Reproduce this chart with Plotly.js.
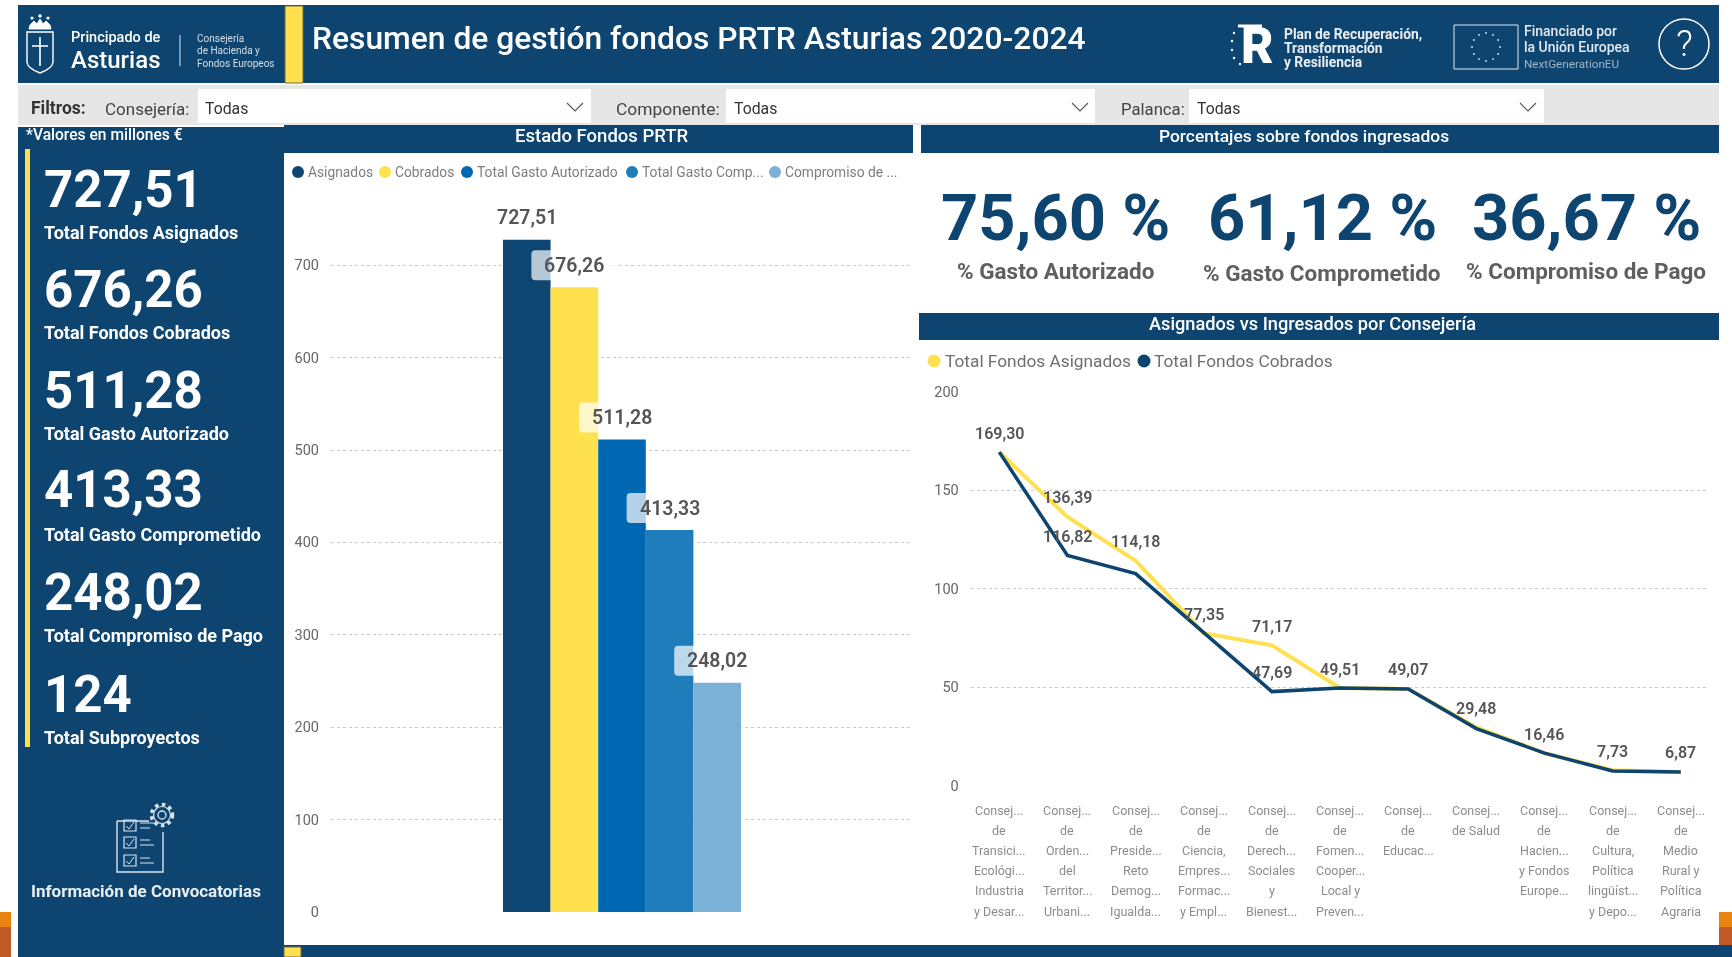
<!DOCTYPE html>
<html lang="es">
<head>
<meta charset="utf-8">
<title>Resumen de gestión fondos PRTR Asturias 2020-2024</title>
<script src="https://cdn.plot.ly/plotly-3.0.1.min.js"></script>
<style>
html,body{margin:0;padding:0;background:#fff;overflow:hidden}
#chart{width:1732px;height:957px;filter:blur(0.5px)}
</style>
</head>
<body>
<div id="chart"></div>
<script>
// ---- data ----
const barNames = ['Asignados','Cobrados','Total Gasto Autorizado','Total Gasto Comp...','Compromiso de ...'];
const barValues = [727.51,676.26,511.28,413.33,248.02];
const barColors = ['#0D4672','#FFE04F','#0068B3','#1F7DBB','#7BB1D6'];
const barTicks = [0,100,200,300,400,500,600,700];

const kpiValues = ['727,51','676,26','511,28','413,33','248,02','124'];
const kpiLabels = ['Total Fondos Asignados','Total Fondos Cobrados','Total Gasto Autorizado','Total Gasto Comprometido','Total Compromiso de Pago','Total Subproyectos'];

const pctValues = ['75,60 %','61,12 %','36,67 %'];
const pctLabels = ['% Gasto Autorizado','% Gasto Comprometido','% Compromiso de Pago'];

const consejeriaLines = [
 ['Consej...','de','Transici...','Ecológi...','Industria','y Desar...'],
 ['Consej...','de','Orden...','del','Territor...','Urbani...'],
 ['Consej...','de','Preside...','Reto','Demog...','Igualda...'],
 ['Consej...','de','Ciencia,','Empres...','Formac...','y Empl...'],
 ['Consej...','de','Derech...','Sociales','y','Bienest...'],
 ['Consej...','de','Fomen...','Cooper...','Local y','Preven...'],
 ['Consej...','de','Educac...'],
 ['Consej...','de Salud'],
 ['Consej...','de','Hacien...','y Fondos','Europe...'],
 ['Consej...','de','Cultura,','Política','lingüíst...','y Depo...'],
 ['Consej...','de','Medio','Rural y','Política','Agraria']
];
const fondosAsignados = [169.30,136.39,114.18,77.35,71.17,49.51,49.07,29.48,16.46,7.73,6.87];
const fondosCobrados  = [169.30,116.82,107.60,77.35,47.69,49.51,49.07,28.90,16.46,7.40,6.87];
const labelsCobrados  = [null,116.82,null,null,47.69,null,null,null,null,null,null];
const lineTicks = [0,50,100,150,200];

// ---- style ----
const NAVY='#0E4570', YEL='#FFE04F', FONT='Roboto, sans-serif', W=1732, H=957;
const GRAY='#5f5f5f', LIGHT='#8c8c8c';
const px=x=>x/W, py=y=>1-y/H;
const es=v=>v.toFixed(2).replace('.',',');
const shapes=[], notes=[];

function rect(x0,y0,x1,y1,fill,extra){shapes.push(Object.assign({type:'rect',xref:'paper',yref:'paper',x0:px(x0),x1:px(x1),y0:py(y0),y1:py(y1),fillcolor:fill,line:{width:0},layer:'below'},extra||{}));}
function circ(cx,cy,r,fill,line,ry){const rr=ry||r;shapes.push({type:'circle',xref:'paper',yref:'paper',x0:px(cx-r),x1:px(cx+r),y0:py(cy-rr),y1:py(cy+rr),fillcolor:fill||'rgba(0,0,0,0)',line:line||{width:0},layer:'below'});}
function path(d,color,width,fill){
  const conv=d.replace(/(-?[\d.]+),(-?[\d.]+)/g,(m,a,b)=>px(+a).toFixed(6)+','+py(+b).toFixed(6));
  shapes.push({type:'path',xref:'paper',yref:'paper',path:conv,line:{color:color,width:width||1},fillcolor:fill||'rgba(0,0,0,0)',layer:'below'});
}
function T(text,x,y,size,color,opt){opt=opt||{};
  notes.push({text:text,xref:'paper',yref:'paper',x:px(x),y:py(y),xanchor:opt.a||'left',yanchor:'middle',showarrow:false,borderpad:0,
    font:{family:opt.f||FONT,size:size,color:color,weight:opt.w||400}});
}

// ---- frame ----
rect(18,5,1719,83,NAVY);
rect(285,6,303,83,YEL,{line:{color:'#6b6b3a',width:1}});
rect(18,85,1719,125,'#E6E6E6');
rect(198,89,591,123,'#fff'); rect(726,89,1095,123,'#fff'); rect(1189,89,1544,123,'#fff');
rect(18,127,284,957,NAVY);
rect(25,149,30,747,YEL);
rect(284,125,913,153,NAVY); rect(921,125,1719,153,NAVY); rect(919,313,1719,340,NAVY);
rect(284,945,1732,957,NAVY);
rect(284,947,301,957,YEL,{line:{color:'#6b6b3a',width:1}});
rect(0,912,11,927,'#E8830F'); rect(0,927,11,957,'#C05A28');
rect(1719,912,1732,927,'#E8830F'); rect(1719,927,1732,945,'#C05A28');

// ---- header logos ----
path('M27,32L53,32L53,62Q53,68 40,73Q27,68 27,62Z','#fff',1.4);
path('M40,37L40,66M32,46L48,46','#fff',1.6);
path('M29,29L51,29L50,25L46,21L43,24L40,19L37,24L34,21L30,25Z','#fff',1,'#fff');
circ(32,18,1.6,'#fff'); circ(40,16,1.8,'#fff'); circ(48,18,1.6,'#fff');
T('Principado de',70,37.5,14.5,'#fff',{w:500});
T('Asturias',70,60,24,'#fff',{w:500});
path('M180,35L180,66','#dfe7ee',1);
T('Consejería',196,38,10,'#d5dfe8'); T('de Hacienda y',196,51,10,'#d5dfe8'); T('Fondos Europeos',196,64,10,'#d5dfe8');
T('Resumen de gestión fondos PRTR Asturias 2020-2024',311,38,31.8,'#fff',{w:500});
T('R',1240,46,50,'#fff',{w:900});
path('M1238,26L1262,26','#fff',3);
[[1234,33],[1232,41],[1232,50],[1234,58],[1240,64]].forEach(p=>circ(p[0],p[1],1.2,'#fff'));
T('Plan de Recuperación,',1283,34,13.8,'#e9eef3',{w:700});
T('Transformación',1283,48,13.8,'#e9eef3',{w:700});
T('y Resiliencia',1283,62,13.8,'#e9eef3',{w:700});
rect(1454,25,1518,69,'rgba(0,0,0,0)',{line:{color:'#dfe7ee',width:1}});
for(let k=0;k<12;k++){const a=k*Math.PI/6;circ(1486+14*Math.cos(a),47+14*Math.sin(a),0.9,'#e9eef3');}
T('Financiado por',1523,31,14,'#e3e9ef',{w:500});
T('la Unión Europea',1523,47,14,'#e3e9ef',{w:500});
T('NextGenerationEU',1523,64,11.7,'#9fb3c4');
circ(1684,44,25,null,{color:'#fff',width:1.5});
T('?',1684,44,37,'#fff',{a:'center',w:300});

// ---- filters ----
T('Filtros:',30,108,17.5,'#333',{w:700});
T('Consejería:',104,109,17,'#444');
T('Todas',204,108,15.8,'#333');
T('Componente:',615,109,17.4,'#444');
T('Todas',733,108,15.8,'#333');
T('Palanca:',1120,109,16.7,'#444');
T('Todas',1196,108,15.8,'#333');
[575,1080,1528].forEach(x=>path(`M${x-8},103L${x},111L${x+8},103`,'#555',1.1));

// ---- left KPI panel ----
T('*Valores en millones €',25,135,15.6,'#fff',{w:500});
const kpiY=[189,289,390,490,592,694], kpiLY=[232,332.5,433,534.5,635,737];
kpiValues.forEach((v,i)=>T(v,43,kpiY[i],51,'#fff',{w:700}));
kpiLabels.forEach((v,i)=>T(v,43,kpiLY[i],18,'#fff',{w:700}));
path('M117,821L117,872L163,872L163,832','#dbe5ee',1.4);
path('M117,821L149,821','#dbe5ee',1.4);
[820,837,855].forEach((y,k)=>{
  rect(124,y,136,y+11,'rgba(0,0,0,0)',{line:{color:'#dbe5ee',width:1.2}});
  path(`M126,${y+6}L129,${y+9}L134,${y+2}`,'#dbe5ee',1);
  path(`M140,${y+3}L${k?150:154},${y+3}M140,${y+8}L${k?154:150},${y+8}`,'#dbe5ee',1.2);
});
circ(162,815,10.5,NAVY,{color:'#dbe5ee',width:3.5,dash:'dot'});
circ(162,815,8.5,NAVY,{color:'#dbe5ee',width:1.2});
circ(162,815,4,NAVY,{color:'#dbe5ee',width:1.3});
T('Información de Convocatorias',146,891,17,'#e8eef3',{a:'center',w:700});

// ---- panel titles ----
T('Estado Fondos PRTR',602,136,18.5,'#fff',{a:'center',w:500});
T('Porcentajes sobre fondos ingresados',1304,136,17.4,'#fff',{a:'center',w:500});
T('Asignados vs Ingresados por Consejería',1312,323,18.2,'#fff',{a:'center',w:500});

// ---- percent KPIs ----
const pctX=[1055,1322,1586], pctLY=[271,273,271];
pctValues.forEach((v,i)=>T(v,pctX[i],218,65,NAVY,{a:'center',w:700}));
pctLabels.forEach((v,i)=>T(v,pctX[i],pctLY[i],22.5,GRAY,{a:'center',w:700}));

// ---- legends ----
const legX=[298,385,467,632,775];
barNames.forEach((n,i)=>{circ(legX[i],172,6,barColors[i]);T(n,legX[i]+9,172,13.8,'#7d7d7d');});
circ(934,361,6.5,YEL); T('Total Fondos Asignados',944,361,17.3,'#6f6f6f');
circ(1144,361,6.5,NAVY); T('Total Fondos Cobrados',1153,361,17.3,'#6f6f6f');

// ---- bar labels with translucent plates ----
const BARGAP=0.591, barStep=(1-BARGAP)/barValues.length;
barValues.forEach((v,i)=>{
  const xc=(i-(barValues.length-1)/2)*barStep;
  if(i>0) shapes.push({type:'path',xref:'x',yref:'y',xsizemode:'pixel',ysizemode:'pixel',xanchor:xc,yanchor:v,
    path:'M-43,11L-43,33Q-43,37 -39,37L39,37Q43,37 43,33L43,11Q43,7 39,7L-39,7Q-43,7 -43,11Z',
    fillcolor:'rgba(255,255,255,0.7)',line:{width:0},layer:'above'});
  notes.push({text:es(v),xref:'x',yref:'y',x:xc,y:v,yshift:22,xanchor:'center',yanchor:'middle',showarrow:false,borderpad:0,
    font:{family:FONT,size:19.5,color:'#555',weight:600}});
});

// ---- line chart labels and category text ----
const consejerias=consejeriaLines.map(l=>l.join(' '));
function lineLabel(i,v){notes.push({text:es(v),xref:'x2',yref:'y2',x:consejerias[i],y:v,yshift:19,xanchor:'center',yanchor:'middle',showarrow:false,borderpad:0,
    font:{family:FONT,size:16,color:'#555',weight:600}});}
fondosAsignados.forEach((v,i)=>lineLabel(i,v));
labelsCobrados.forEach((v,i)=>{if(v!==null)lineLabel(i,v);});
consejeriaLines.forEach((lines,i)=>lines.forEach((t,k)=>{
  notes.push({text:t,xref:'x2',yref:'paper',x:consejerias[i],y:py(810+k*20.2),xanchor:'center',yanchor:'middle',showarrow:false,borderpad:0,
    font:{family:FONT,size:12.5,color:LIGHT}});
}));

// ---- traces ----
const traces=barNames.map((n,i)=>({type:'bar',name:n,x:['Estado Fondos PRTR'],y:[barValues[i]],marker:{color:barColors[i],line:{width:0}},xaxis:'x',yaxis:'y',showlegend:false,hoverinfo:'none'}));
traces.push({type:'scatter',mode:'lines',name:'Total Fondos Asignados',x:consejerias,y:fondosAsignados,line:{color:YEL,width:4},xaxis:'x2',yaxis:'y2',showlegend:false,hoverinfo:'none'});
traces.push({type:'scatter',mode:'lines',name:'Total Fondos Cobrados',x:consejerias,y:fondosCobrados,line:{color:NAVY,width:3.5},xaxis:'x2',yaxis:'y2',showlegend:false,hoverinfo:'none'});

const tickFont={family:FONT,size:14.5,color:'#666'};
const grid={showgrid:true,gridcolor:'#c9c9c9',griddash:'dot',gridwidth:1,zeroline:false,showline:false,ticks:'',tickfont:tickFont,ticklabelstandoff:11};
const layout={
  width:W,height:H,margin:{l:0,r:0,t:0,b:0,pad:0},paper_bgcolor:'#fff',plot_bgcolor:'rgba(0,0,0,0)',
  showlegend:false,barmode:'group',bargap:BARGAP,bargroupgap:0,
  xaxis:{domain:[px(331),px(913)],type:'category',range:[-0.5,0.5],showticklabels:false,showgrid:false,zeroline:false,ticks:'',anchor:'y'},
  yaxis:Object.assign({domain:[py(912),py(172.8)],range:[0,800],tickmode:'array',tickvals:barTicks,ticktext:barTicks.map(String),anchor:'x'},grid),
  xaxis2:{domain:[px(970.7),px(1706)],type:'category',range:[-0.42,10.37],showticklabels:false,showgrid:false,zeroline:false,ticks:'',anchor:'y2'},
  yaxis2:Object.assign({domain:[py(785.5),py(391.7)],range:[0,200],tickmode:'array',tickvals:lineTicks,ticktext:lineTicks.map(String),anchor:'x2'},grid),
  shapes:shapes,annotations:notes
};
Plotly.newPlot('chart',traces,layout,{displayModeBar:false,staticPlot:true});
</script>
</body>
</html>
